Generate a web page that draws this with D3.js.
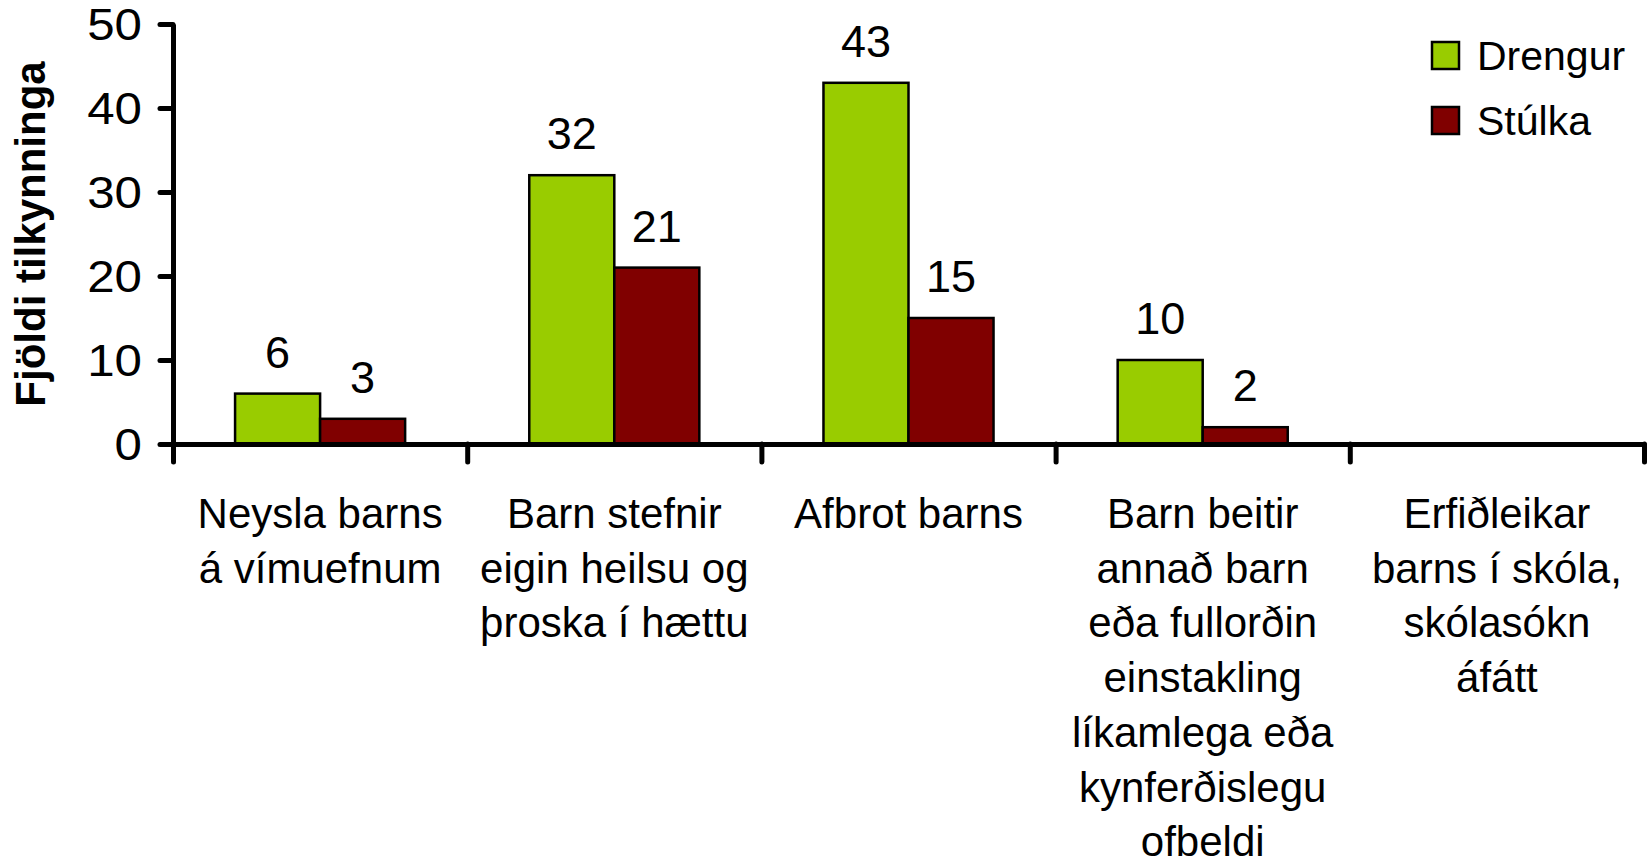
<!DOCTYPE html>
<html>
<head>
<meta charset="utf-8">
<script src="https://cdn.jsdelivr.net/npm/d3@7"></script>
<style>
  body { margin: 0; background: #fff; }
  svg text { font-family: "Liberation Sans", Arial, sans-serif; fill: #000; }
</style>
</head>
<body>
<div id="chart"></div>
<script>
// categories, each split into the lines used on the axis
var categories = [
  ['Neysla barns', 'á vímuefnum'],
  ['Barn stefnir', 'eigin heilsu og', 'þroska í hættu'],
  ['Afbrot barns'],
  ['Barn beitir', 'annað barn', 'eða fullorðin', 'einstakling', 'líkamlega eða', 'kynferðislegu', 'ofbeldi'],
  ['Erfiðleikar', 'barns í skóla,', 'skólasókn', 'áfátt']
];
var seriesNames = ['Drengur', 'Stúlka'];
var seriesColors = ['#99cc00', '#800000'];
var drengur = [6, 32, 43, 10, null];
var stulka = [3, 21, 15, 2, null];
var yTicks = [0, 10, 20, 30, 40, 50];

var width = 1649, height = 862;
var margin = {top: 24, right: 5, bottom: 418, left: 173};
var innerW = width - margin.left - margin.right;
var innerH = height - margin.top - margin.bottom;

var svg = d3.select('#chart').append('svg')
  .attr('width', width).attr('height', height);
var g = svg.append('g')
  .attr('transform', 'translate(' + [margin.left, margin.top] + ')');

var keys = categories.map((c, i) => i);
var x0 = d3.scaleBand().domain(keys).range([0, innerW]).padding(0);
var x1 = d3.scaleBand().domain(seriesNames).range([0, x0.bandwidth()])
  .paddingInner(0).paddingOuter(0.73);
var y = d3.scaleLinear().domain([0, 50]).range([innerH, 0]);
var xEdges = d3.scaleLinear().domain([0, categories.length]).range([0, innerW]);

// bars
var rows = keys.map(i => ({i, values: [drengur[i], stulka[i]]}));
var groups = g.selectAll('.group')
  .data(rows)
  .enter().append('g')
  .attr('class', 'group')
  .attr('transform', d => 'translate(' + x0(d.i) + ',0)');

var bars = groups.selectAll('rect')
  .data(d => d.values.map((v, s) => ({v, s})).filter(d => d.v != null))
  .enter();

bars.append('rect')
  .attr('x', d => x1(seriesNames[d.s]))
  .attr('y', d => y(d.v))
  .attr('width', x1.bandwidth())
  .attr('height', d => y(0) - y(d.v))
  .attr('fill', d => seriesColors[d.s])
  .attr('stroke', '#000')
  .attr('stroke-width', 2.5);

bars.append('text')
  .attr('x', d => x1(seriesNames[d.s]) + x1.bandwidth() / 2)
  .attr('y', d => y(d.v) - 26)
  .attr('text-anchor', 'middle')
  .style('font-size', '45px')
  .text(d => d.v);

// y axis
var yAxis = g.append('g')
  .call(d3.axisLeft(y).tickValues(yTicks).tickSize(13).tickSizeOuter(0).tickPadding(12));
yAxis.select('.domain').attr('stroke', '#000').attr('stroke-width', 5);
yAxis.selectAll('.tick line').attr('stroke', '#000').attr('stroke-width', 5).attr('stroke-linecap', 'round');
yAxis.selectAll('.tick text')
  .style('font-size', '44px')
  .attr('dy', '0.36em')
  .attr('transform', 'translate(-3,0) scale(1.12,1)');

// x axis: ticks on category edges
var xAxis = g.append('g')
  .attr('transform', 'translate(0,' + innerH + ')')
  .call(d3.axisBottom(xEdges).ticks(categories.length).tickSize(18).tickSizeOuter(0).tickFormat(''));
xAxis.select('.domain').attr('stroke', '#000').attr('stroke-width', 5);
xAxis.selectAll('.tick line').attr('stroke', '#000').attr('stroke-width', 5).attr('stroke-linecap', 'round');

// category labels
var lineH = 54.7;
g.selectAll('.cat')
  .data(categories)
  .enter().append('text')
  .attr('class', 'cat')
  .attr('text-anchor', 'middle')
  .style('font-size', '42px')
  .attr('transform', (d, i) => 'translate(' + [x0(i) + x0.bandwidth() / 2, innerH + 84] + ')')
  .selectAll('tspan')
  .data(d => d)
  .enter().append('tspan')
  .attr('x', 0)
  .attr('y', (d, j) => j * lineH)
  .text(d => d);

// y axis title
svg.append('text')
  .attr('transform', 'translate(45,' + (margin.top + innerH / 2) + ') rotate(-90)')
  .attr('text-anchor', 'middle')
  .style('font-size', '42px')
  .style('font-weight', 'bold')
  .text('Fjöldi tilkynninga');

// legend
var legend = svg.append('g').attr('transform', 'translate(1432,42)');
var items = legend.selectAll('g')
  .data(seriesNames)
  .enter().append('g')
  .attr('transform', (d, i) => 'translate(0,' + i * 65 + ')');
items.append('rect')
  .attr('width', 27).attr('height', 27)
  .attr('fill', (d, i) => seriesColors[i])
  .attr('stroke', '#000').attr('stroke-width', 2.5);
items.append('text')
  .attr('x', 45).attr('y', 28)
  .style('font-size', '41px')
  .text(d => d);
</script>
</body>
</html>
